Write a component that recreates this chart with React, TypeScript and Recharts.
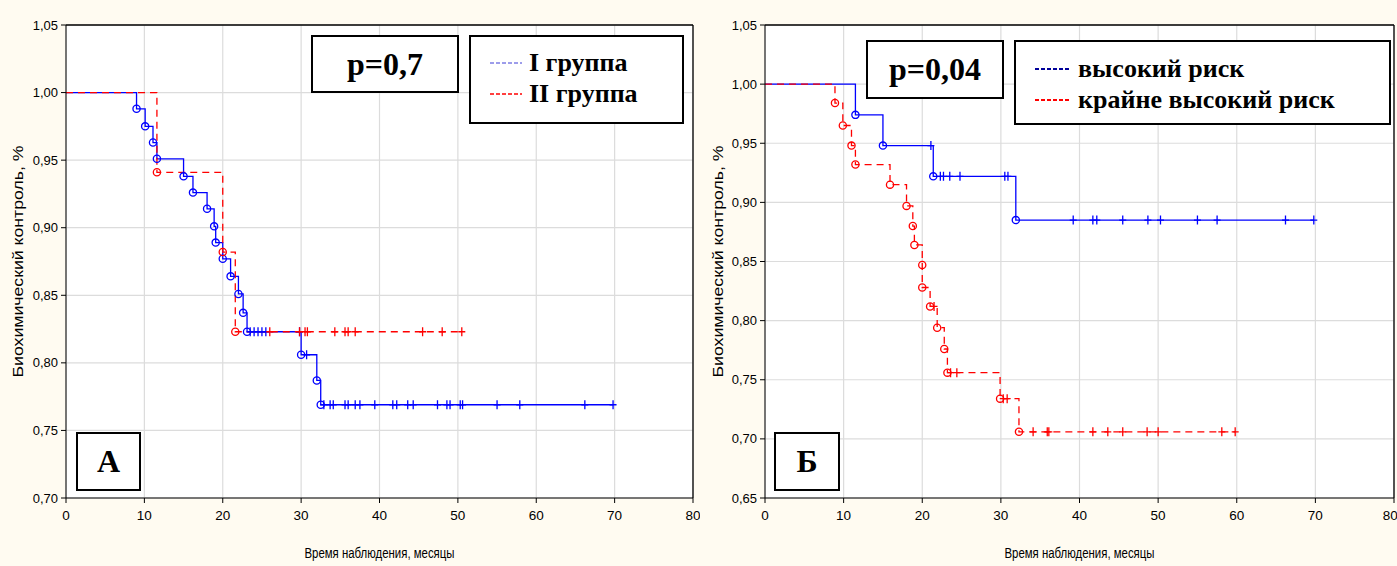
import { ComposedChart, Line, Scatter, XAxis, YAxis, CartesianGrid, ReferenceLine } from "recharts"

// ---- data ----
const xTicks = [0, 10, 20, 30, 40, 50, 60, 70, 80]
const yTicksA = [0.7, 0.75, 0.8, 0.85, 0.9, 0.95, 1.0, 1.05]
const yTicksB = [0.65, 0.7, 0.75, 0.8, 0.85, 0.9, 0.95, 1.0, 1.05]

// panel A, I группа (blue)
const g1Times = [9.0, 10.1, 11.1, 11.6, 15.0, 16.2, 18.0, 18.9, 19.1, 20.0, 21.0, 22.0, 22.6, 23.1, 30.0, 32.0, 32.5]
const g1Surv = [0.988, 0.975, 0.963, 0.951, 0.938, 0.926, 0.914, 0.901, 0.889, 0.877, 0.864, 0.851, 0.837, 0.823, 0.806, 0.787, 0.769]
const g1Censor = [23.5, 24.0, 24.5, 25.0, 25.5, 29.8, 30.7, 32.9, 33.7, 34.1, 35.6, 36.0, 36.9, 37.5, 39.4, 41.7, 42.2, 43.6, 44.3, 47.4, 48.6, 49.0, 50.3, 50.6, 55.0, 57.9, 66.2, 69.8]
const g1End = 69.8

// panel A, II группа (red)
const g2Times = [11.6, 20.0, 21.6]
const g2Surv = [0.941, 0.882, 0.823]
const g2Censor = [26.0, 29.8, 30.5, 30.8, 34.3, 35.6, 36.0, 36.9, 45.5, 48.0, 50.5]
const g2End = 50.5

// panel Б, высокий риск (blue)
const hrTimes = [11.5, 15.0, 21.4, 31.9]
const hrSurv = [0.974, 0.948, 0.922, 0.885]
const hrCensor = [21.1, 22.3, 22.7, 23.5, 24.8, 30.5, 30.9, 39.2, 41.7, 42.2, 45.5, 48.7, 50.3, 55.0, 57.5, 66.2, 69.8]
const hrEnd = 69.8

// panel Б, крайне высокий риск (red)
const vhTimes = [8.9, 9.9, 11.0, 11.5, 15.9, 18.0, 18.8, 19.0, 20.0, 20.0, 21.0, 21.9, 22.8, 23.2, 29.9, 32.3]
const vhSurv = [0.984, 0.965, 0.948, 0.932, 0.915, 0.897, 0.880, 0.864, 0.847, 0.828, 0.812, 0.794, 0.776, 0.756, 0.734, 0.706]
const vhCensor = [21.5, 23.6, 24.4, 30.3, 30.8, 34.1, 35.9, 36.1, 41.7, 43.6, 45.5, 48.6, 50.0, 58.1, 59.8]
const vhEnd = 59.8

const BLUE = "#0000ff"
const RED = "#ff0000"
const AXIS_FONT = "'Liberation Sans', Arial, sans-serif"
const SERIF = "'Liberation Serif', 'Times New Roman', serif"

type Pt = { t: number; v: number }

function stepData(times: number[], surv: number[], end: number): Pt[] {
    return [{ t: 0, v: 1 }, ...times.map((t, i) => ({ t, v: surv[i] })), { t: end, v: surv[surv.length - 1] }]
}
function eventData(times: number[], surv: number[]): Pt[] {
    return times.map((t, i) => ({ t, v: surv[i] }))
}
// censored obs sit on the KM curve at their time
function censorData(cens: number[], times: number[], surv: number[]): Pt[] {
    return cens.map(c => {
        let v = 1
        times.forEach((t, i) => { if (t <= c) v = surv[i] })
        return { t: c, v }
    })
}

const fmt = (v: number) => v.toFixed(2).replace(".", ",")

interface Series { times: number[]; surv: number[]; censor: number[]; end: number; color: string; dashed: boolean }

function Circle(color: string) {
    return (p: any) => <circle cx={p.cx} cy={p.cy} r={3.6} fill="none" stroke={color} strokeWidth={1.3} />
}
function Plus(color: string) {
    return (p: any) => (
        <path d={`M${p.cx - 3.5},${p.cy}H${p.cx + 3.5}M${p.cx},${p.cy - 4.5}V${p.cy + 4.5}`} stroke={color} strokeWidth={1.3} fill="none" />
    )
}

function KMPanel({ width, yTicks, series, plotLeft, plotW }: { width: number; yTicks: number[]; series: Series[]; plotLeft: number; plotW: number }) {
    const yMin = yTicks[0]
    const yMax = yTicks[yTicks.length - 1]
    return (
        <ComposedChart width={width} height={566} margin={{ top: 25, right: width - plotLeft - plotW, left: 0, bottom: 0 }}>
            <CartesianGrid stroke="#dcdcdc" strokeWidth={1.2} fill="#ffffff" />
            <XAxis
                type="number" dataKey="t" domain={[0, 80]} ticks={xTicks} allowDataOverflow
                height={68} stroke="#000" tickSize={5} tickMargin={7}
                tick={{ fill: "#000", fontSize: 13.5, fontFamily: AXIS_FONT }}
                label={{
                    content: (props: any) => {
                        const vb = props.viewBox
                        return <text x={vb.x + vb.width / 2} y={vb.y + 60} textAnchor="middle" fontSize={14} textLength={150} lengthAdjust="spacingAndGlyphs" fontFamily={AXIS_FONT} fill="#000">Время наблюдения, месяцы</text>
                    },
                }}
            />
            <YAxis
                type="number" domain={[yMin, yMax]} ticks={yTicks} allowDataOverflow
                width={plotLeft} stroke="#000" tickSize={5} tickMargin={3} tickFormatter={fmt}
                tick={{ fill: "#000", fontSize: 13, fontFamily: AXIS_FONT }}
                label={{
                    content: (props: any) => {
                        const vb = props.viewBox
                        const cx = vb.x + 18
                        const cy = vb.y + vb.height / 2
                        return <text x={cx} y={cy} transform={`rotate(-90 ${cx} ${cy})`} textAnchor="middle" dominantBaseline="central" fontSize={14} textLength={232} lengthAdjust="spacingAndGlyphs" fontFamily={AXIS_FONT} fill="#000">Биохимический контроль, %</text>
                    },
                }}
            />
            <ReferenceLine y={yMax} stroke="#000" strokeWidth={1.3} />
            <ReferenceLine x={80} stroke="#000" strokeWidth={1.3} />
            {series.map((s, i) => (
                <Line
                    key={"l" + i} data={stepData(s.times, s.surv, s.end)} dataKey="v" type="stepAfter"
                    stroke={s.color} strokeWidth={1.3} strokeDasharray={s.dashed ? "7 5" : undefined}
                    dot={false} activeDot={false} isAnimationActive={false}
                />
            ))}
            {series.map((s, i) => (
                <Scatter key={"e" + i} data={eventData(s.times, s.surv)} dataKey="v" shape={Circle(s.color)} isAnimationActive={false} />
            ))}
            {series.map((s, i) => (
                <Scatter key={"c" + i} data={censorData(s.censor, s.times, s.surv)} dataKey="v" shape={Plus(s.color)} isAnimationActive={false} />
            ))}
        </ComposedChart>
    )
}

const boxStyle: React.CSSProperties = {
    position: "absolute", background: "#fff", border: "2px solid #000", boxSizing: "border-box",
    fontFamily: SERIF, fontWeight: 700, color: "#000",
}

function LegendRow({ color, label, top, left, lineW, thick }: { color: string; label: string; top: number; left: number; lineW: number; thick: number }) {
    return (
        <div style={{ position: "absolute", top, left, display: "flex", alignItems: "center", gap: 7 }}>
            <svg width={lineW} height={6}><line x1={0} y1={3} x2={lineW} y2={3} stroke={color} strokeWidth={thick} strokeDasharray="4 2" /></svg>
            <span style={{ fontSize: 26, lineHeight: "28px" }}>{label}</span>
        </div>
    )
}

export default function App() {
    const panelA: Series[] = [
        { times: g1Times, surv: g1Surv, censor: g1Censor, end: g1End, color: BLUE, dashed: false },
        { times: g2Times, surv: g2Surv, censor: g2Censor, end: g2End, color: RED, dashed: true },
    ]
    const panelB: Series[] = [
        { times: hrTimes, surv: hrSurv, censor: hrCensor, end: hrEnd, color: BLUE, dashed: false },
        { times: vhTimes, surv: vhSurv, censor: vhCensor, end: vhEnd, color: RED, dashed: true },
    ]
    return (
        <div style={{ position: "absolute", left: 0, top: 0, width: 1397, height: 566, background: "#fffbf1", overflow: "hidden" }}>
            <div style={{ position: "absolute", left: 0, top: 0 }}>
                <KMPanel width={700} yTicks={yTicksA} series={panelA} plotLeft={66} plotW={627} />
            </div>
            <div style={{ position: "absolute", left: 700, top: 0 }}>
                <KMPanel width={697} yTicks={yTicksB} series={panelB} plotLeft={65} plotW={629} />
            </div>

            {/* panel A annotations */}
            <div style={{ ...boxStyle, left: 311, top: 35, width: 148, height: 58, fontSize: 32, display: "flex", alignItems: "center", justifyContent: "center" }}>p=0,7</div>
            <div style={{ ...boxStyle, left: 469, top: 35, width: 215, height: 89 }}>
                <LegendRow color="#3b3bd6" label="I группа" top={12} left={19} lineW={32} thick={1} />
                <LegendRow color={RED} label="II группа" top={43} left={19} lineW={32} thick={1.5} />
            </div>
            <div style={{ ...boxStyle, left: 76, top: 432, width: 65, height: 59, fontSize: 32, display: "flex", alignItems: "center", justifyContent: "center" }}>А</div>

            {/* panel Б annotations */}
            <div style={{ ...boxStyle, left: 866, top: 40, width: 138, height: 59, fontSize: 32, display: "flex", alignItems: "center", justifyContent: "center" }}>p=0,04</div>
            <div style={{ ...boxStyle, left: 1014, top: 40, width: 377, height: 85 }}>
                <LegendRow color="#000099" label="высокий риск" top={13} left={19} lineW={36} thick={2} />
                <LegendRow color={RED} label="крайне высокий риск" top={44} left={19} lineW={36} thick={2} />
            </div>
            <div style={{ ...boxStyle, left: 774, top: 432, width: 66, height: 59, fontSize: 32, display: "flex", alignItems: "center", justifyContent: "center" }}>Б</div>
        </div>
    )
}
